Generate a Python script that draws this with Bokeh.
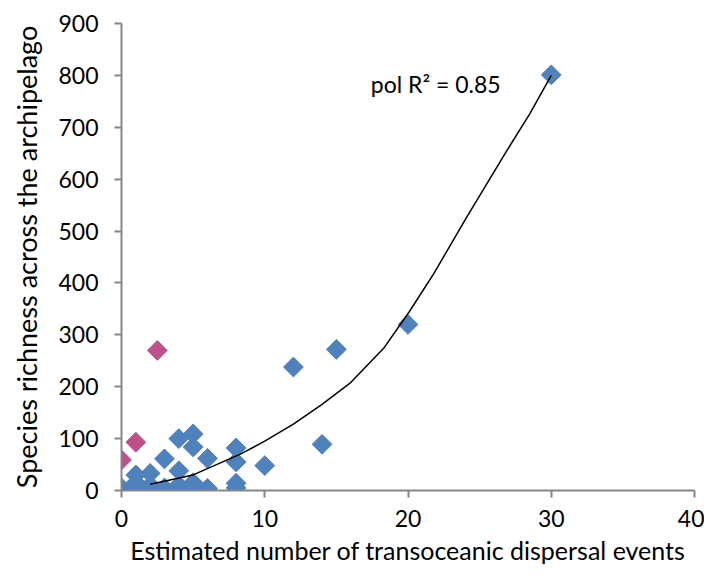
import numpy as np
from bokeh.plotting import figure
from bokeh.models import Range1d, FixedTicker, Label
from bokeh.embed import file_html
from bokeh.resources import INLINE

# Blue series: estimated dispersal events vs species richness
blue_x = [0, 0, 1, 1, 1, 2, 2, 2, 3, 3, 3, 4, 4, 4, 4, 5, 5, 5, 5, 6, 6,
          8, 8, 8, 8, 10, 12, 14, 15, 20, 30]
blue_y = [0, 5, 0, 15, 30, 0, 10, 33, 0, 5, 61, 0, 10, 38, 100, 0, 15, 84, 109, 4, 62,
          5, 14, 55, 82, 48, 238, 89, 272, 320, 801]

# Pink series
pink_x = [0, 1, 2.5]
pink_y = [59, 93, 270]

# Polynomial trend line
trend_x = [2, 5, 8.3, 10, 12, 14, 16, 18.3, 20.1, 21.8, 22.9, 24.1, 26.9, 28.5, 30]
trend_y = [12, 30, 70, 95, 128, 166, 208, 274, 345, 418, 470, 527, 655, 726, 800]

x_ticks = [0, 10, 20, 30, 40]
y_ticks = [0, 100, 200, 300, 400, 500, 600, 700, 800, 900]

FONT = "Lato"
AXIS_GRAY = "#868686"

p = figure(width=704, height=570, output_backend="svg", toolbar_location=None,
           x_range=Range1d(0, 40), y_range=Range1d(0, 900),
           min_border_left=121, min_border_right=10, min_border_top=23,
           min_border_bottom=80)
p.outline_line_color = None
p.xgrid.visible = False
p.ygrid.visible = False

p.scatter(blue_x, blue_y, marker="square", size=14, angle=np.pi / 4,
          fill_color="#4F81BD", line_color="#4F81BD")
p.scatter(pink_x, pink_y, marker="square", size=14, angle=np.pi / 4,
          fill_color="#C0508A", line_color="#C0508A")
p.line(trend_x, trend_y, line_color="black", line_width=1.5)

p.add_layout(Label(x=17.4, y=784, text="pol R² = 0.85", text_font=FONT,
                   text_font_size="23px", text_color="black",
                   text_baseline="middle", text_align="left"))

for ax in (p.xaxis[0], p.yaxis[0]):
    ax.axis_line_color = AXIS_GRAY
    ax.axis_line_width = 2
    ax.major_tick_line_color = AXIS_GRAY
    ax.major_tick_line_width = 2
    ax.major_tick_in = 0
    ax.major_tick_out = 7
    ax.minor_tick_line_color = None
    ax.major_label_text_font = FONT
    ax.major_label_text_font_size = "23px"
    ax.major_label_text_color = "black"
    ax.axis_label_text_font_style = "normal"
    ax.axis_label_text_font = FONT
    ax.axis_label_text_color = "black"

p.xaxis.axis_label_text_font_size = "25px"
p.yaxis.axis_label_text_font_size = "27px"
p.xaxis.ticker = FixedTicker(ticks=x_ticks)
p.yaxis.ticker = FixedTicker(ticks=y_ticks)
p.xaxis.axis_label = "Estimated number of transoceanic dispersal events"
p.yaxis.axis_label = "Species richness across the archipelago"
p.xaxis.major_label_standoff = 12
p.yaxis.major_label_standoff = 16
p.xaxis.axis_label_standoff = 5
p.yaxis.axis_label_standoff = 12

open("out.html", "w").write(file_html(p, INLINE))
